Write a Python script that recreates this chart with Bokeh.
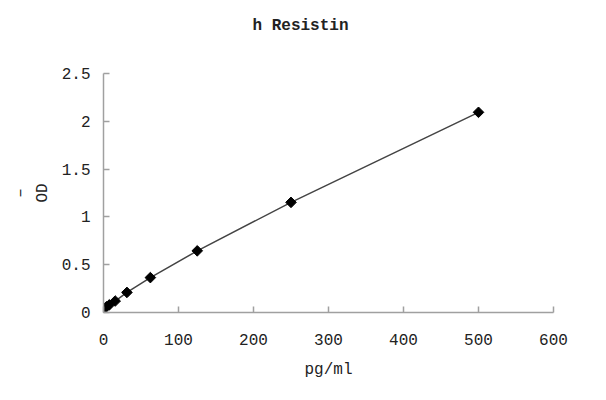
from math import pi

from bokeh.plotting import figure
from bokeh.models import Range1d, Title
from bokeh.embed import file_html
from bokeh.resources import INLINE

# standard curve readings
conc = [0, 3.9, 7.8, 15.6, 31.25, 62.5, 125, 250, 500]
od = [0.04, 0.06, 0.08, 0.12, 0.21, 0.365, 0.645, 1.152, 2.094]

x_ticks = [0, 100, 200, 300, 400, 500, 600]
y_ticks = [0, 0.5, 1, 1.5, 2, 2.5]
y_tick_labels = ["0", "0.5", "1", "1.5", "2", "2.5"]

FONT = "Liberation Mono"
AXIS_GREY = "#a0a0a0"

p = figure(width=590, height=384, output_backend="svg", toolbar_location=None,
           x_range=Range1d(0, 600), y_range=Range1d(0, 2.5),
           min_border_left=103, min_border_right=37,
           min_border_top=73, min_border_bottom=72,
           title="h Resistin")
p.outline_line_color = None
p.grid.visible = False

p.title.align = "left"
p.title.offset = 149
p.title.text_font = FONT
p.title.text_font_size = "16px"
p.title.text_font_style = "bold"
p.title.text_color = "#222222"
p.title.standoff = 4

# empty panel between the title and the frame, pushes the title up
p.add_layout(Title(text=" ", text_font_size="16px", standoff=18), "above")

# curve + points
p.line(conc, od, line_color="#444444", line_width=1.5)
p.scatter(conc, od, marker="square", angle=pi / 4, size=7.5,
          fill_color="black", line_color="black")

for ax in (p.xaxis[0], p.yaxis[0]):
    ax.axis_line_color = AXIS_GREY
    ax.axis_line_width = 1.5
    ax.major_tick_line_color = AXIS_GREY
    ax.major_tick_line_width = 1.5
    ax.major_tick_in = 6
    ax.major_tick_out = 0
    ax.minor_tick_line_color = None
    ax.major_label_text_font = FONT
    ax.major_label_text_font_size = "16px"
    ax.major_label_text_color = "#222222"
    ax.axis_label_text_font = FONT
    ax.axis_label_text_font_size = "16px"
    ax.axis_label_text_font_style = "normal"
    ax.axis_label_text_color = "#222222"

p.xaxis.ticker = x_ticks
p.xaxis.axis_label = "pg/ml"
p.xaxis.major_label_standoff = 21
p.xaxis.axis_label_standoff = 13

p.yaxis.ticker = y_ticks
p.yaxis.major_label_overrides = {t: s for t, s in zip(y_ticks, y_tick_labels)}
# first line is the mean bar that sits left of "OD" in the original
p.yaxis.axis_label = "\u2013\nOD"
p.yaxis.major_label_standoff = 13
p.yaxis.axis_label_standoff = 7

open("out.html", "w").write(file_html(p, INLINE))
